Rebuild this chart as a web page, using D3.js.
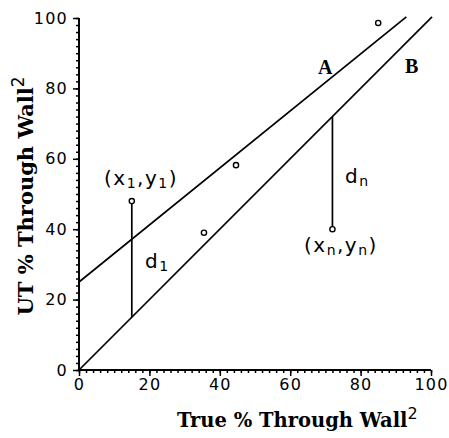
<!DOCTYPE html>
<html>
<head>
<meta charset="utf-8">
<script src="https://cdn.jsdelivr.net/npm/d3@7"></script>
<style>
  html, body { margin: 0; padding: 0; background: #fff; }
  svg { display: block; }
  .tick text { font-family: "DejaVu Sans", sans-serif; font-size: 16px; letter-spacing: 1.2px; fill: #000; }
  .axis-title { font-family: "DejaVu Serif", serif; font-weight: bold; }
  .sup { font-family: "DejaVu Sans", sans-serif; font-weight: normal; }
  .note { font-family: "DejaVu Sans", sans-serif; font-size: 20px; letter-spacing: 1.5px; }
  .letter { font-family: "Liberation Serif", serif; font-size: 20px; font-weight: bold; }
</style>
</head>
<body>
<svg id="chart" width="449" height="438"></svg>
<script>
// axis ticks
const majorTicks = [0, 20, 40, 60, 80, 100];
const minorTicks = d3.range(0, 101, 2);

// observed points (true %, UT %)
const pointX = [15, 35.5, 44.6, 72, 85];
const pointY = [48, 39, 58.2, 40, 98.6];

// fitted line A and identity line B
const lineA = [[0, 25], [93, 100.3]];
const lineB = [[0, 0], [100.3, 100.3]];

// residual segments: x, from y, to y
const residX = [15, 72];
const residFrom = [48, 72];
const residTo = [15, 40];

const svg = d3.select("#chart");

const x = d3.scaleLinear().domain([0, 100]).range([79, 431]);
const y = d3.scaleLinear().domain([0, 100]).range([370, 18]);

// Axes
svg.append("g")
  .attr("transform", `translate(0,${y(0)})`)
  .call(d3.axisBottom(x).tickValues(minorTicks).tickSize(3).tickFormat(""));
svg.append("g")
  .attr("transform", `translate(0,${y(0)})`)
  .call(d3.axisBottom(x).tickValues(majorTicks).tickSize(6).tickPadding(3));

svg.append("g")
  .attr("transform", `translate(${x(0)},0)`)
  .call(d3.axisLeft(y).tickValues(minorTicks).tickSize(3).tickFormat(""));
svg.append("g")
  .attr("transform", `translate(${x(0)},0)`)
  .call(d3.axisLeft(y).tickValues(majorTicks).tickSize(6).tickPadding(5));

svg.selectAll(".domain").remove();
svg.selectAll(".tick line").attr("stroke", "#000").attr("stroke-width", 1.5);

svg.append("line")
  .attr("x1", x(0)).attr("x2", x(100))
  .attr("y1", y(0)).attr("y2", y(0))
  .attr("stroke", "#000").attr("stroke-width", 2);
svg.append("line")
  .attr("x1", x(0)).attr("x2", x(0))
  .attr("y1", y(0)).attr("y2", y(100))
  .attr("stroke", "#000").attr("stroke-width", 2);

// Lines
const line = d3.line().x(d => x(d[0])).y(d => y(d[1]));
svg.append("path").attr("d", line(lineA))
  .attr("fill", "none").attr("stroke", "#000").attr("stroke-width", 1.7);
svg.append("path").attr("d", line(lineB))
  .attr("fill", "none").attr("stroke", "#000").attr("stroke-width", 1.7);

// residuals
svg.append("g").selectAll("line")
  .data(residX)
  .join("line")
  .attr("x1", d => x(d)).attr("x2", d => x(d))
  .attr("y1", (d, i) => y(residFrom[i]))
  .attr("y2", (d, i) => y(residTo[i]))
  .attr("stroke", "#000").attr("stroke-width", 1.7);

// points
svg.append("g").selectAll("circle")
  .data(pointX)
  .join("circle")
  .attr("cx", d => x(d))
  .attr("cy", (d, i) => y(pointY[i]))
  .attr("r", 2.6)
  .attr("fill", "#fff")
  .attr("stroke", "#000")
  .attr("stroke-width", 1.4);

// annotation text with subscripts
function subText(px, py, parts) {
  const t = svg.append("text").attr("class", "note").attr("x", px).attr("y", py);
  parts.forEach(p => {
    const s = t.append("tspan").text(p[0]);
    if (p[1]) s.attr("font-size", 14).attr("dy", 3);
    else if (p[2]) s.attr("dy", -3);
  });
  return t;
}
subText(104, 185, [["(x"], ["1", true], [",y", false, true], ["1", true], [")", false, true]]);
subText(145, 268, [["d"], ["1", true]]);
subText(345, 183, [["d"], ["n", true]]);
subText(304, 252, [["(x"], ["n", true], [",y", false, true], ["n", true], [")", false, true]]);

svg.append("text").attr("class", "letter").attr("x", 318).attr("y", 74).text("A");
svg.append("text").attr("class", "letter").attr("x", 405).attr("y", 73).text("B");

// axis titles
const xt = svg.append("text").attr("class", "axis-title")
  .attr("font-size", 19.5)
  .attr("x", 177).attr("y", 427);
xt.append("tspan").text("True % Through Wall");
xt.append("tspan").attr("class", "sup").attr("dy", -8).attr("font-size", 16).text("2");

const yt = svg.append("text").attr("class", "axis-title")
  .attr("font-size", 21)
  .attr("transform", "translate(33,196) rotate(-90)")
  .attr("text-anchor", "middle");
yt.append("tspan").text("UT % Through Wall");
yt.append("tspan").attr("class", "sup").attr("dy", -9).attr("font-size", 17).text("2");
</script>
</body>
</html>
